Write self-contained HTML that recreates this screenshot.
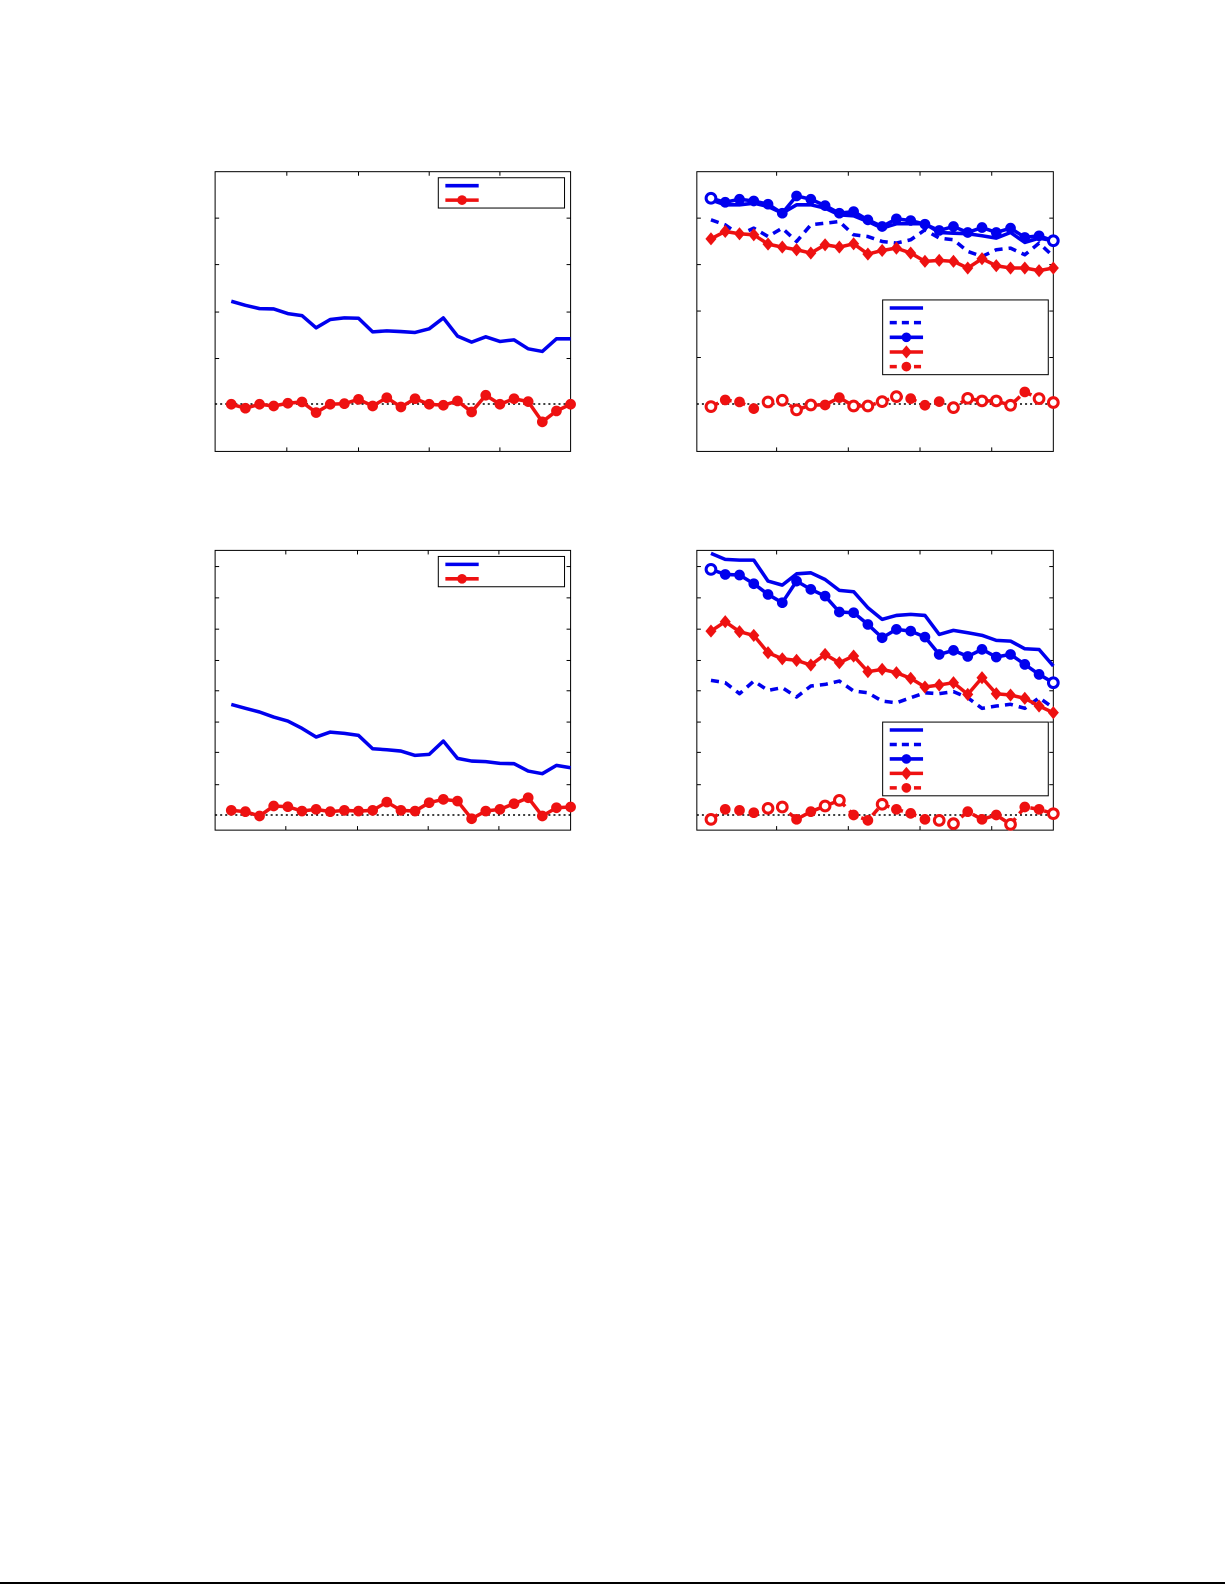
<!DOCTYPE html>
<html><head><meta charset="utf-8"><style>html,body{margin:0;padding:0;background:#fff}svg{display:block}</style></head>
<body>
<svg width="1225" height="1585" xmlns="http://www.w3.org/2000/svg"><g id="g" transform="scale(1.0099)"></g><line x1="0" y1="1583" x2="1225" y2="1583" stroke="#000" stroke-width="2"/></svg>
<script>
const S=document.getElementById('g');let h='';
const B='#0000ee',R='#ee1111';
function xs(x0,x1){const a=[];for(let i=0;i<25;i++)a.push(x0+(x1-x0)*i/24);return a;}
function line(X,Y,c,dash){h+=`<polyline fill="none" stroke="${c}" stroke-width="3.5" stroke-linejoin="round" ${dash?'stroke-dasharray="8,6"':''} points="${X.map((x,i)=>x.toFixed(1)+','+Y[i].toFixed(1)).join(' ')}"/>`;}
function circ(X,Y,c,open){X.forEach((x,i)=>{const o=open&&open.includes(i);h+=`<circle cx="${x}" cy="${Y[i]}" r="4.8" fill="${o?'#fff':c}" stroke="${c}" stroke-width="${o?3:1}"/>`;});}
function dia(X,Y,c){X.forEach((x,i)=>{const y=Y[i];h+=`<polygon points="${x},${y-6.5} ${x+5.5},${y} ${x},${y+6.5} ${x-5.5},${y}" fill="${c}"/>`;});}
function box(x0,y0,x1,y1,yt,xt,dot){
 h+=`<rect x="${x0}" y="${y0}" width="${x1-x0}" height="${y1-y0}" fill="none" stroke="#000" stroke-width="1"/>`;
 yt.forEach(y=>{h+=`<line x1="${x0}" y1="${y}" x2="${x0+4}" y2="${y}" stroke="#000"/><line x1="${x1-4}" y1="${y}" x2="${x1}" y2="${y}" stroke="#000"/>`;});
 xt.forEach(x=>{h+=`<line x1="${x}" y1="${y0}" x2="${x}" y2="${y0+4}" stroke="#000"/><line x1="${x}" y1="${y1-4}" x2="${x}" y2="${y1}" stroke="#000"/>`;});
 h+=`<line x1="${x0}" y1="${dot}" x2="${x1}" y2="${dot}" stroke="#000" stroke-width="1.5" stroke-dasharray="2,3"/>`;
}
function leg(x0,y0,x1,y1,items){
 h+=`<rect x="${x0}" y="${y0}" width="${x1-x0}" height="${y1-y0}" fill="#fff" stroke="#000"/>`;
 const n=items.length,st=(y1-y0)/(n+0.1);
 items.forEach((it,i)=>{const y=y0+st*(i+0.55),a=x0+7,b=x0+40,m=(a+b)/2;
  h+=`<line x1="${a}" y1="${y}" x2="${b}" y2="${y}" stroke="${it.c}" stroke-width="3.5" ${it.d?'stroke-dasharray="7,5"':''}/>`;
  if(it.m=='o')h+=`<circle cx="${m}" cy="${y}" r="4.8" fill="${it.c}"/>`;
  if(it.m=='d')h+=`<polygon points="${m},${y-6.5} ${m+5.5},${y} ${m},${y+6.5} ${m-5.5},${y}" fill="${it.c}"/>`;});
}
box(213,170,565,447,[216,262,309,355],[284,355,425,495],400);
let X=xs(229,565);
line(X,[298.3,302.3,305.6,305.9,310.5,312.5,324.6,316.4,314.8,315.1,328.6,327.6,328.3,329.2,325.6,314.8,332.8,338.8,333.5,338.1,336.5,345.4,348,335.5,335.5],B);
let Y=[400.3,404.2,400.3,402,399.3,398,408.5,400.3,399.7,395.4,402,393.8,403,394.8,400.3,401.3,397,407.9,391.4,400.3,394.8,397.7,417.7,406.9,400.3];
line(X,Y,R);circ(X,Y,R);
leg(434,176,559,206,[{c:B},{c:R,m:'o'}]);
box(213,545,565,822,[561,592,623,654,684,715,745,777],[283,354,424,494],807);
line(X,[697.5,701.4,705,710,714,721.2,729.8,724.9,726.2,728.2,741.4,742.4,743.7,748,747,733.8,750.9,753.6,754.2,755.9,756.2,763.5,766.1,757.9,760.2],B);
Y=[802.4,803.7,808,798.1,798.8,803.1,801.4,803.7,802.4,803.1,802.4,794.2,802.4,803.1,794.8,791.5,793.2,810.7,803.1,801.4,795.8,789.9,808,799.8,799.1];
line(X,Y,R);circ(X,Y,R);
leg(434,551,559,581,[{c:B},{c:R,m:'o'}]);
box(690,170,1043,447,[216,262,308,354],[769,840,911,982],400);
X=xs(704,1043);
line(X,[198,202.8,202.8,201.2,204.5,211.1,202.8,202.8,206.1,212.8,213.8,219.4,225.9,221.6,221.6,221.6,230.2,230.9,231.5,233.5,235.8,230.2,240.1,235.8,238.4],B);
line(X,[217.7,222.6,232.5,225.9,234.2,225.9,239.1,222.6,221,219.4,232.5,234.2,239.1,240.7,237.4,227.6,235.8,237.4,249,253.9,247.3,245.7,252.3,240.7,253.9],B,1);
Y=[196.3,200.3,197.3,199,202.2,211.1,194,197.3,203.6,211.1,209.5,217.7,224.3,216.7,218.4,222,228.2,224.3,230.2,225.3,230.2,225.9,235.1,233.5,238.4];
line(X,Y,B);circ(X,Y,B,[0,24]);
Y=[236.5,229.2,231.5,232.5,241.7,244.7,247.3,250.6,242.4,244.7,241.4,251.6,248,245.7,250.6,258.8,257.8,258.8,265.4,256.2,263.1,265.4,265.4,268,265.4];
line(X,Y,R);dia(X,Y,R);
Y=[402.6,396,398,404.6,398,396.3,405.9,401,401,393.7,402,402,397.7,392.7,394.7,401.3,397.7,403.6,394.4,397,397,401.3,388.1,394.7,398.6];
line(X,Y,R,1);circ(X,Y,R,[0,4,5,6,7,10,11,12,13,17,18,19,20,21,23,24]);
leg(874,297,1038,371,[{c:B},{c:B,d:1},{c:B,m:'o'},{c:R,m:'d'},{c:R,m:'o',d:1}]);
box(690,545,1043,822,[561,592,623,654,684,715,745,777],[769,840,911,982],807);
line(X,[548,553.9,554.6,554.6,575.4,579.4,568.2,567.2,573.8,584.6,585.9,601.8,613.3,609.4,608.4,609.4,628.2,624.2,626.5,629.1,634.1,634.8,642.4,643.1,659.5],B);
line(X,[673.7,676,686.9,674.4,683.6,680.9,690.2,679.3,677.7,674.4,684.3,686,694.2,695.9,690.9,686,686.9,684.9,690.9,701.4,699.1,697.4,701.4,690.9,700.8],B,1);
Y=[563.8,568.8,569.4,578,588.6,596.8,575.4,583.6,590.2,606,606.7,618.3,631.5,623.2,624.9,630.8,648,644,650,643,650.6,648,657.9,667.8,676];
line(X,Y,B);circ(X,Y,B,[0,24]);
Y=[624.9,615.6,625.5,629.2,646.3,652.3,653.9,658.5,648,656.2,649.6,665.1,662.8,666.1,671.7,680.3,678.3,676,687.6,671.1,686.9,688.2,691.5,699.1,705.7];
line(X,Y,R);dia(X,Y,R);
Y=[811.3,801.4,802.4,804.7,800.4,799.1,811.3,803.7,798.1,792.5,807,812.3,796.4,801.4,805.4,811.3,812.3,815.6,803.7,811.3,807,816.3,799.1,801.4,805.7];
line(X,Y,R,1);circ(X,Y,R,[0,4,5,8,9,12,16,17,21,24]);
leg(874,715,1038,788,[{c:B},{c:B,d:1},{c:B,m:'o'},{c:R,m:'d'},{c:R,m:'o',d:1}]);
S.innerHTML=h;
</script>
</body></html>
